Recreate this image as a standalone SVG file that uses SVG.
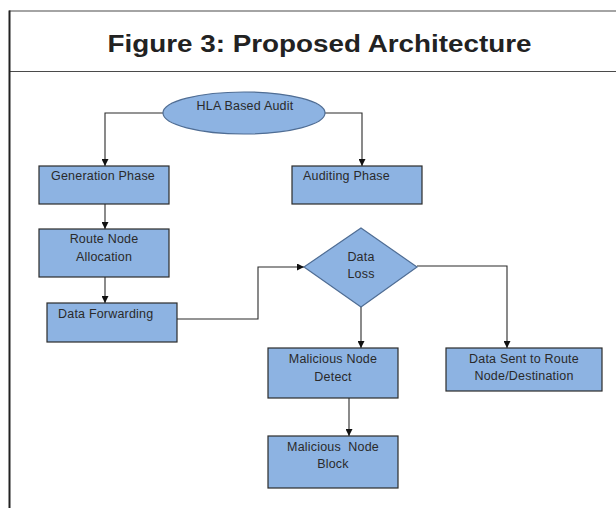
<svg xmlns="http://www.w3.org/2000/svg" width="616" height="508" viewBox="0 0 616 508">
<defs>
<marker id="ah" viewBox="0 0 8 8" refX="8" refY="4" markerWidth="7" markerHeight="7" markerUnits="userSpaceOnUse" orient="auto">
<path d="M0,0 L8,4 L0,8 Z" fill="#111"/>
</marker>
<style>
.frame{stroke:#4a4a4a;stroke-width:1.2;fill:none}
.node{fill:#8db3e2;stroke:#2b2b2b;stroke-width:1.2}
.soft{fill:#8db3e2;stroke:#4f6d94;stroke-width:1.2}
.lbl{font-family:"Liberation Sans",Arial,sans-serif;font-size:12.5px;fill:#2a2a2a;letter-spacing:0.2px}
.mid{text-anchor:middle}
.conn path{fill:none;stroke:#2b2b2b;stroke-width:1.1;marker-end:url(#ah)}
.title{font-family:"Liberation Sans",Arial,sans-serif;font-weight:bold;font-size:23px;fill:#222;text-anchor:middle}
</style>
</defs>
<rect width="616" height="508" fill="#fff"/>
<g id="frame">
<line class="frame" x1="9" y1="11" x2="616" y2="11"/>
<line class="frame" x1="9" y1="71.5" x2="616" y2="71.5"/>
<line x1="9.5" y1="10.5" x2="9.5" y2="508" stroke="#222" stroke-width="2"/>
<text class="title" x="319.5" y="52" textLength="424" lengthAdjust="spacingAndGlyphs">Figure 3: Proposed Architecture</text>
</g>
<g id="connectors" class="conn">
<path d="M163,113 H105 V166"/>
<path d="M325,113 H362 V166"/>
<path d="M105,204 V229"/>
<path d="M105,277 V303"/>
<path d="M177,319 H258 V267 H304"/>
<path d="M361,307 V348"/>
<path d="M417,266 H507 V348"/>
<path d="M349,398 V436"/>
</g>
<g id="hla-audit">
<ellipse class="soft" cx="244" cy="113" rx="81" ry="21"/>
<text class="lbl mid" x="245" y="110">HLA Based Audit</text>
</g>
<g id="generation-phase">
<rect class="node" x="39" y="166" width="130" height="38"/>
<text class="lbl mid" x="103" y="180">Generation Phase</text>
</g>
<g id="auditing-phase">
<rect class="node" x="292" y="166" width="130" height="38"/>
<text class="lbl" x="303" y="180">Auditing Phase</text>
</g>
<g id="route-node-allocation">
<rect class="node" x="39" y="229" width="130" height="48"/>
<text class="lbl mid" x="104" y="243">Route Node</text>
<text class="lbl mid" x="104" y="261">Allocation</text>
</g>
<g id="data-forwarding">
<rect class="node" x="47" y="303" width="130" height="39"/>
<text class="lbl" x="58" y="318">Data Forwarding</text>
</g>
<g id="data-loss">
<polygon class="soft" points="361,228 417,267 361,307 304,267"/>
<text class="lbl mid" x="361" y="261">Data</text>
<text class="lbl mid" x="361" y="278">Loss</text>
</g>
<g id="malicious-detect">
<rect class="node" x="268" y="348" width="130" height="50"/>
<text class="lbl mid" x="333" y="363">Malicious Node</text>
<text class="lbl mid" x="333" y="381">Detect</text>
</g>
<g id="malicious-block">
<rect class="node" x="268" y="436" width="130" height="52"/>
<text class="lbl mid" x="333" y="451" xml:space="preserve" style="white-space:pre">Malicious  Node</text>
<text class="lbl mid" x="333" y="468">Block</text>
</g>
<g id="data-sent">
<rect class="node" x="446" y="348" width="156" height="43"/>
<text class="lbl mid" x="524" y="363">Data Sent to Route</text>
<text class="lbl mid" x="524" y="380">Node/Destination</text>
</g>
</svg>
